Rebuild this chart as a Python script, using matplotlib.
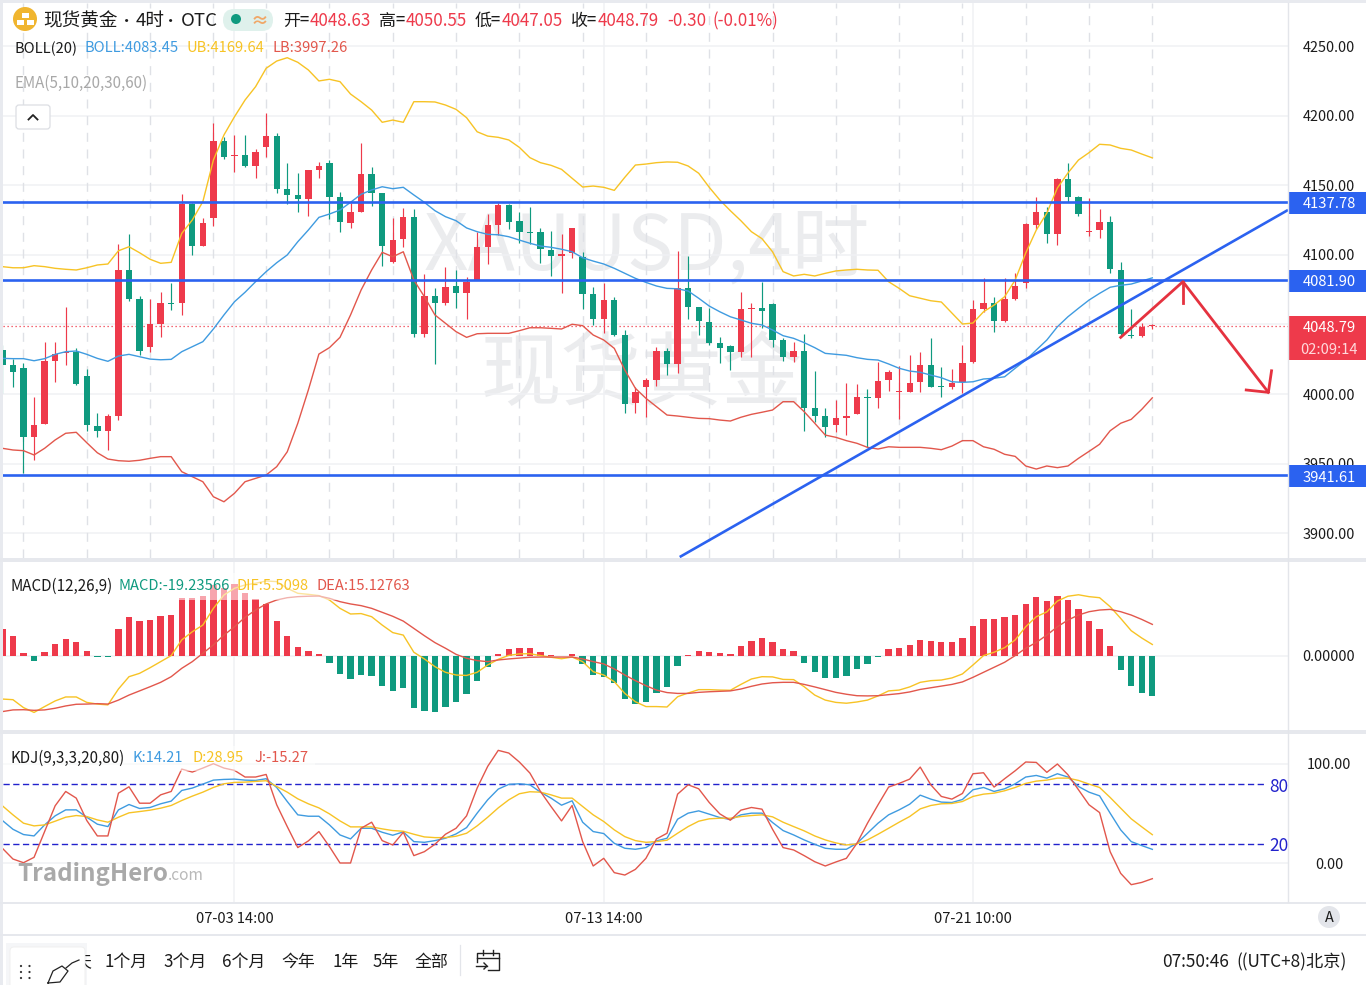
#!/usr/bin/env python3
# -*- coding: utf-8 -*-
"""XAUUSD 4h candlestick panel with BOLL, MACD and KDJ panes."""

import matplotlib

matplotlib.use("Agg")
import matplotlib.pyplot as plt
import numpy as np
from matplotlib.patches import Circle, FancyBboxPatch, Rectangle

plt.rcParams["font.family"] = ["Noto Sans CJK SC", "DejaVu Sans"]

candle_open = [
    4031.6, 4020.6, 4018.7, 3969.1, 3978.4, 4023.7, 4029.7, 4030.4, 4012.9, 3977.2,
    3973.6, 3984.4, 4089.1, 4068.0, 4033.5, 4050.1, 4065.6, 4065.2, 4136.5, 4106.3,
    4126.2, 4181.8, 4170.8, 4171.5, 4164.0, 4177.4, 4185.3, 4147.3, 4142.7, 4140.3,
    4160.9, 4165.7, 4141.5, 4123.1, 4130.7, 4158.0, 4144.2, 4094.8, 4111.1, 4127.4,
    4043.1, 4070.4, 4065.2, 4077.6, 4072.3, 4081.9, 4105.8, 4121.4, 4135.8, 4124.1,
    4116.6, 4116.2, 4103.4, 4099.4, 4101.1, 4098.2, 4071.8, 4053.7, 4067.5, 4042.4,
    3993.3, 4005.2, 4010.1, 4030.9, 4021.6, 4075.9, 4062.3, 4051.5, 4036.6, 4034.3,
    4030.0, 4061.1, 4061.6, 4064.4, 4038.8, 4026.8, 4031.1, 3989.7, 3984.2, 3977.7,
    3983.0, 3985.4, 3997.8, 3997.1, 4010.1, 4001.2, 4001.8, 4008.4, 4020.8, 4005.5,
    4004.8, 4008.4, 4022.8, 4061.1, 4065.4, 4052.7, 4068.0, 4080.0, 4121.2, 4130.5,
    4114.7, 4154.2, 4141.7, 4116.6, 4117.6, 4123.3, 4089.3, 4042.6, 4041.7, 4048.63,
]
candle_high = [
    4035.2, 4025.1, 4022.3, 3997.8, 4037.4, 4037.4, 4062.7, 4033.3, 4018.0, 3986.6,
    3985.6, 4107.8, 4114.9, 4070.4, 4068.2, 4073.5, 4080.0, 4143.7, 4137.2, 4126.4,
    4194.5, 4184.8, 4186.1, 4186.1, 4176.0, 4202.1, 4187.7, 4166.0, 4159.0, 4160.9,
    4166.9, 4168.1, 4144.9, 4137.0, 4180.1, 4162.9, 4144.4, 4126.2, 4133.4, 4132.9,
    4086.2, 4075.9, 4091.0, 4089.1, 4083.8, 4116.6, 4129.1, 4137.0, 4136.3, 4130.5,
    4134.1, 4119.0, 4117.1, 4114.9, 4119.5, 4102.2, 4076.9, 4080.0, 4069.9, 4046.0,
    4005.2, 4011.3, 4033.5, 4032.8, 4102.7, 4099.4, 4062.5, 4061.6, 4041.2, 4035.2,
    4073.5, 4065.2, 4080.7, 4065.2, 4040.0, 4037.1, 4042.9, 4016.5, 3989.7, 3995.7,
    4008.1, 4007.0, 4003.4, 4023.2, 4017.2, 4020.1, 4028.0, 4030.4, 4040.0, 4019.2,
    4017.7, 4035.2, 4067.5, 4083.6, 4069.5, 4083.1, 4086.7, 4122.6, 4141.3, 4134.6,
    4155.4, 4165.7, 4142.5, 4140.6, 4132.7, 4127.9, 4094.8, 4061.1, 4050.8, 4050.55,
]
candle_low = [
    4000.7, 4005.2, 3943.5, 3952.6, 3978.4, 4008.6, 4020.8, 4006.5, 3973.6, 3969.3,
    3959.8, 3981.3, 4067.0, 4028.0, 4030.4, 4040.7, 4060.3, 4056.8, 4099.9, 4106.3,
    4120.7, 4168.8, 4159.7, 4163.3, 4155.2, 4170.3, 4144.4, 4136.5, 4131.0, 4127.9,
    4155.2, 4125.5, 4116.2, 4119.5, 4130.7, 4135.1, 4092.0, 4093.9, 4105.4, 4041.2,
    4040.7, 4021.6, 4063.9, 4062.0, 4053.9, 4081.9, 4093.4, 4114.2, 4118.5, 4108.7,
    4107.8, 4093.9, 4085.0, 4072.3, 4097.5, 4061.1, 4049.6, 4043.6, 4041.9, 3986.6,
    3986.6, 3983.3, 4005.7, 4013.6, 4014.9, 4053.9, 4042.4, 4035.2, 4022.1, 4017.2,
    4026.4, 4026.8, 4047.6, 4033.5, 4023.9, 4022.8, 3973.6, 3980.1, 3969.3, 3972.9,
    3970.5, 3985.4, 3961.7, 3989.7, 4002.2, 3982.0, 4001.7, 4001.7, 4005.2, 3998.1,
    4003.4, 4000.5, 4022.1, 4059.1, 4044.3, 4051.5, 4067.5, 4076.4, 4118.3, 4108.7,
    4107.0, 4138.2, 4127.9, 4113.7, 4111.9, 4086.7, 4040.7, 4040.0, 4040.7, 4047.05,
]
candle_close = [
    4020.8, 4016.0, 3969.1, 3977.7, 4023.7, 4028.7, 4030.4, 4007.0, 3977.7, 3973.6,
    3984.4, 4089.1, 4068.2, 4031.1, 4050.1, 4065.6, 4064.9, 4136.5, 4106.3, 4123.1,
    4181.8, 4170.5, 4171.5, 4164.0, 4173.9, 4185.3, 4147.3, 4143.0, 4140.3, 4160.9,
    4163.8, 4141.7, 4123.6, 4130.7, 4158.0, 4144.2, 4106.3, 4110.6, 4127.4, 4043.1,
    4070.4, 4065.6, 4076.7, 4072.3, 4080.7, 4105.8, 4121.4, 4135.8, 4123.6, 4116.6,
    4115.9, 4104.0, 4099.4, 4100.4, 4119.0, 4071.8, 4053.7, 4067.5, 4042.4, 3992.8,
    4001.4, 4010.1, 4030.9, 4021.6, 4075.9, 4062.7, 4052.2, 4036.9, 4033.3, 4030.0,
    4060.8, 4061.8, 4059.6, 4038.8, 4026.8, 4031.1, 3989.9, 3984.4, 3976.1, 3982.5,
    3984.4, 3997.6, 3996.9, 4009.6, 4016.0, 4002.2, 4008.1, 4020.8, 4005.2, 4004.8,
    4008.1, 4022.5, 4061.1, 4065.4, 4052.7, 4068.0, 4077.6, 4121.9, 4130.5, 4114.7,
    4154.5, 4141.7, 4129.5, 4117.3, 4123.3, 4089.6, 4042.9, 4041.7, 4048.3, 4048.79,
]

boll_upper = [
    4091.5, 4090.7, 4090.7, 4092.2, 4091.5, 4090.3, 4089.6, 4089.1, 4090.7, 4092.7,
    4093.4, 4102.9, 4105.8, 4101.5, 4096.8, 4093.9, 4094.6, 4115.4, 4125.0, 4138.2,
    4168.1, 4186.1, 4199.2, 4211.2, 4220.8, 4234.0, 4239.2, 4241.6, 4238.3, 4232.8,
    4224.9, 4226.1, 4224.4, 4215.5, 4210.0, 4204.0, 4195.2, 4196.8, 4195.2, 4210.0,
    4210.0, 4209.8, 4207.6, 4204.5, 4198.5, 4188.4, 4185.3, 4184.4, 4182.5, 4177.2,
    4169.8, 4166.2, 4164.3, 4161.4, 4155.0, 4148.7, 4149.4, 4148.5, 4146.3, 4155.7,
    4164.5, 4165.2, 4166.2, 4166.7, 4166.5, 4163.8, 4158.6, 4148.5, 4139.4, 4131.7,
    4124.5, 4116.6, 4111.6, 4102.2, 4087.9, 4084.8, 4086.0, 4084.8, 4086.7, 4088.4,
    4089.1, 4089.6, 4089.1, 4088.9, 4080.7, 4075.9, 4070.6, 4068.8, 4067.0, 4066.1,
    4058.2, 4050.3, 4051.0, 4059.1, 4063.9, 4069.9, 4081.9, 4101.3, 4117.8, 4130.0,
    4148.0, 4158.8, 4168.1, 4173.4, 4179.4, 4178.9, 4176.5, 4175.3, 4172.4, 4169.64,
]
boll_mid = [
    4025.6, 4025.4, 4025.4, 4023.9, 4025.4, 4028.5, 4030.4, 4030.9, 4028.5, 4025.6,
    4023.5, 4027.3, 4028.5, 4026.8, 4025.1, 4024.6, 4024.9, 4030.4, 4034.0, 4037.6,
    4046.7, 4056.8, 4066.3, 4073.1, 4080.7, 4087.9, 4094.3, 4099.9, 4109.4, 4117.8,
    4126.9, 4129.3, 4132.2, 4137.7, 4143.5, 4146.6, 4148.9, 4147.5, 4148.5, 4143.0,
    4137.7, 4131.7, 4127.4, 4124.5, 4119.3, 4116.6, 4114.7, 4114.4, 4113.0, 4110.6,
    4108.3, 4106.3, 4105.4, 4104.0, 4102.2, 4097.9, 4095.5, 4093.4, 4090.3, 4086.7,
    4083.1, 4080.2, 4077.6, 4075.9, 4075.6, 4074.0, 4068.8, 4063.2, 4059.1, 4055.5,
    4053.2, 4050.8, 4049.6, 4046.0, 4041.9, 4040.0, 4036.9, 4033.3, 4029.2, 4028.5,
    4027.8, 4026.1, 4024.9, 4024.4, 4021.6, 4018.5, 4016.5, 4015.6, 4013.6, 4011.7,
    4008.8, 4008.4, 4008.8, 4010.8, 4011.3, 4012.4, 4018.5, 4024.4, 4031.6, 4038.8,
    4048.3, 4055.5, 4061.6, 4067.5, 4072.3, 4076.7, 4078.1, 4079.0, 4081.2, 4083.45,
]
boll_lower = [
    3961.0, 3959.8, 3959.3, 3956.2, 3961.0, 3967.0, 3971.8, 3972.5, 3965.0, 3957.8,
    3953.3, 3952.1, 3951.7, 3952.4, 3953.8, 3955.0, 3955.0, 3944.2, 3940.6, 3937.0,
    3926.2, 3922.6, 3928.7, 3937.0, 3939.4, 3941.8, 3947.8, 3958.5, 3979.0, 4002.9,
    4028.7, 4033.3, 4040.7, 4056.8, 4074.7, 4089.1, 4101.8, 4098.6, 4102.2, 4081.9,
    4069.9, 4056.8, 4050.8, 4044.8, 4040.7, 4043.3, 4043.6, 4043.6, 4043.6, 4045.5,
    4047.6, 4047.6, 4047.2, 4046.7, 4050.1, 4049.1, 4042.4, 4038.8, 4032.8, 4017.2,
    4004.1, 3996.9, 3990.9, 3984.9, 3984.2, 3983.3, 3982.5, 3982.3, 3981.3, 3980.6,
    3983.3, 3985.4, 3986.9, 3988.5, 3994.5, 3994.5, 3987.3, 3979.0, 3970.5, 3968.9,
    3966.5, 3964.6, 3961.7, 3960.5, 3962.1, 3961.7, 3961.7, 3961.7, 3961.0, 3960.0,
    3962.6, 3966.5, 3966.5, 3962.1, 3960.3, 3956.7, 3955.2, 3948.3, 3946.1, 3948.3,
    3947.1, 3948.3, 3953.8, 3958.8, 3963.9, 3973.6, 3979.0, 3981.8, 3989.0, 3997.26,
]

macd_hist = [
    12.8, 9.6, 1.4, -2.2, 1.9, 5.6, 8.1, 6.9, 2.4, -0.3,
    -0.3, 12.9, 18.5, 16.7, 17.4, 19.3, 19.6, 27.9, 27.9, 28.7,
    34.0, 32.7, 34.3, 30.3, 27.1, 24.7, 16.7, 9.7, 4.1, 2.4,
    1.0, -3.2, -8.5, -10.8, -8.9, -9.4, -14.4, -16.6, -15.5, -24.9,
    -26.3, -26.6, -24.2, -22.0, -18.3, -12.0, -5.4, 0.8, 3.2, 3.7,
    3.8, 1.9, 0.5, 0.2, 1.0, -3.7, -9.1, -10.0, -13.1, -20.7,
    -23.1, -22.2, -17.5, -14.7, -4.8, 0.3, 2.4, 1.9, 1.4, 1.0,
    4.8, 7.3, 8.6, 6.5, 3.5, 2.4, -3.5, -7.5, -10.4, -10.7,
    -9.6, -6.4, -4.0, -0.6, 3.3, 4.0, 5.3, 7.7, 7.2, 6.5,
    6.7, 8.5, 14.2, 17.9, 17.7, 18.8, 19.8, 24.9, 28.1, 26.5,
    28.7, 27.0, 22.6, 16.9, 12.8, 4.8, -6.9, -14.2, -17.7, -19.23566,
]
macd_dif = [
    -20.6, -20.9, -24.7, -27.0, -24.2, -21.5, -19.6, -19.6, -22.2, -23.0,
    -23.4, -15.8, -9.9, -8.3, -5.6, -2.7, 0.2, 7.7, 11.6, 14.8,
    22.8, 29.2, 32.4, 34.0, 34.8, 35.9, 35.6, 32.4, 30.0, 29.5,
    28.9, 26.8, 22.8, 20.1, 20.3, 18.8, 14.8, 11.2, 10.0, 1.8,
    -1.4, -5.1, -7.8, -9.1, -9.3, -7.8, -4.3, -1.6, 0.3, 1.0,
    1.1, 0.2, -0.6, -1.3, -0.5, -2.7, -7.5, -9.1, -12.3, -17.9,
    -21.9, -24.2, -24.2, -24.4, -19.5, -17.7, -16.1, -16.1, -16.3, -16.4,
    -13.6, -11.0, -9.9, -10.0, -11.2, -11.3, -14.7, -18.7, -21.1, -22.2,
    -22.6, -22.0, -21.1, -19.1, -16.7, -16.3, -14.8, -12.6, -11.8, -11.5,
    -10.5, -8.6, -4.3, 0.2, 1.8, 4.0, 7.7, 14.0, 18.8, 21.1,
    26.3, 28.6, 29.3, 28.4, 27.9, 23.6, 18.0, 12.1, 8.6, 5.5098,
]
macd_dea = [
    -26.6, -25.8, -25.7, -26.0, -25.8, -25.0, -23.9, -23.1, -23.0, -22.8,
    -23.0, -21.1, -18.7, -16.7, -14.7, -12.6, -9.9, -5.9, -2.7, 1.3,
    5.3, 10.0, 14.0, 18.5, 22.0, 24.9, 26.8, 27.9, 28.4, 28.6,
    28.7, 27.6, 26.0, 24.9, 24.1, 22.8, 20.9, 19.0, 16.7, 13.2,
    9.7, 6.4, 3.7, 0.8, -1.1, -2.2, -2.7, -1.9, -1.4, -1.0,
    -0.6, -0.5, -0.5, -0.5, -0.5, -1.4, -2.7, -3.8, -6.2, -9.1,
    -11.8, -14.2, -16.3, -17.5, -17.9, -17.9, -17.4, -17.1, -16.9, -16.7,
    -15.8, -14.5, -13.4, -12.8, -12.6, -12.6, -13.6, -14.8, -16.1, -17.4,
    -18.3, -19.0, -19.1, -19.0, -18.5, -18.0, -17.2, -16.0, -15.2, -14.4,
    -13.6, -12.4, -10.2, -7.8, -5.4, -3.0, 0.2, 3.7, 6.5, 10.0,
    14.0, 17.2, 19.6, 21.2, 22.0, 22.3, 21.2, 19.6, 17.5, 15.12763,
]

kdj_k = [
    43.2, 34.4, 29.1, 27.7, 38.8, 47.9, 53.9, 53.9, 46.5, 39.5,
    37.1, 53.9, 59.3, 55.3, 56.3, 60.0, 62.7, 73.4, 75.8, 79.8,
    83.8, 84.5, 84.8, 83.8, 83.5, 85.2, 76.4, 62.3, 48.9, 47.5,
    47.5, 38.8, 28.7, 24.7, 35.4, 35.4, 31.4, 28.4, 31.8, 22.0,
    21.3, 23.0, 25.4, 29.7, 36.1, 50.6, 64.0, 74.8, 79.5, 80.1,
    79.1, 71.7, 65.7, 58.6, 63.0, 41.5, 32.1, 30.1, 20.3, 15.3,
    14.3, 16.0, 22.7, 25.4, 44.5, 50.6, 52.9, 49.6, 46.2, 44.2,
    48.9, 50.6, 50.6, 41.2, 33.1, 28.7, 23.7, 19.3, 15.3, 14.3,
    14.3, 20.3, 30.4, 40.5, 48.9, 53.9, 59.6, 68.7, 64.7, 61.7,
    61.3, 64.3, 74.1, 76.4, 72.4, 75.1, 80.1, 86.9, 88.5, 85.8,
    90.2, 86.9, 77.4, 71.7, 68.0, 50.6, 33.8, 22.0, 18.0, 14.21,
]
kdj_d = [
    58.0, 48.9, 40.5, 37.8, 38.8, 42.5, 46.5, 48.2, 47.2, 43.8,
    41.5, 46.5, 50.9, 52.2, 53.6, 55.6, 58.3, 63.3, 67.7, 71.7,
    76.4, 80.1, 81.5, 81.8, 82.5, 83.2, 77.4, 71.7, 65.0, 60.0,
    55.9, 49.9, 42.8, 36.8, 36.8, 36.8, 34.8, 33.1, 32.4, 29.4,
    26.7, 26.0, 26.0, 27.4, 30.4, 37.8, 46.5, 55.9, 64.0, 70.1,
    72.1, 71.7, 69.0, 65.7, 65.7, 57.3, 48.9, 42.2, 33.8, 27.0,
    23.0, 21.3, 22.0, 23.4, 30.4, 37.1, 42.5, 44.9, 45.5, 45.5,
    47.2, 48.2, 48.9, 46.9, 41.5, 37.1, 32.8, 27.7, 23.7, 20.7,
    18.6, 19.7, 23.7, 29.4, 35.4, 41.5, 47.2, 54.9, 58.3, 60.0,
    60.3, 62.3, 67.4, 69.7, 70.7, 73.1, 76.4, 80.5, 82.8, 83.8,
    85.8, 85.8, 83.5, 79.8, 76.4, 66.4, 55.6, 44.9, 36.8, 28.95,
]
kdj_j = [
    15.3, 4.5, 0.8, 6.2, 32.1, 58.0, 72.4, 65.7, 43.2, 27.7,
    27.7, 70.7, 77.1, 60.6, 60.6, 69.0, 72.4, 94.9, 91.9, 95.9,
    100.3, 95.9, 93.6, 86.9, 86.9, 89.5, 59.0, 37.1, 16.0, 22.7,
    32.1, 17.0, 0.5, 0.5, 35.4, 41.5, 23.0, 18.6, 31.4, 7.9,
    11.9, 19.3, 29.4, 35.4, 47.9, 75.8, 97.6, 113.7, 111.0, 102.0,
    90.9, 72.4, 57.3, 42.8, 58.3, 22.0, -2.5, 5.2, -9.2, -11.6,
    -5.9, 5.2, 24.7, 30.4, 69.7, 79.1, 75.1, 61.3, 49.9, 43.5,
    53.6, 56.3, 54.6, 34.4, 16.0, 13.6, 7.9, 1.8, -2.5, 1.5,
    5.2, 20.3, 40.5, 59.0, 76.8, 80.5, 84.8, 96.9, 79.1, 67.4,
    64.7, 70.4, 90.2, 91.2, 76.8, 85.2, 93.2, 102.0, 101.6, 91.6,
    100.0, 89.2, 74.1, 59.0, 51.2, 11.9, -9.9, -21.3, -19.0, -15.27,
]

price_ticks = [3900, 3950, 4000, 4050, 4100, 4150, 4200, 4250]
price_tick_labels = ["3900.00", "3950.00", "4000.00", "4050.00", "4100.00", "4150.00", "4200.00", "4250.00"]
drawn_levels = [4137.78, 4081.90, 3941.61]
last_price = 4048.79

date_ticks = [22, 57, 92]
date_labels = ["07-03 14:00", "07-13 14:00", "07-21 10:00"]
session_bars = [2, 8, 14, 20, 25, 31, 37, 43, 49, 55, 61, 67, 73, 79, 85, 91, 97, 103, 109]

trend_bars = [64.2, 121.86]
trend_prices = [3882.9, 4132.2]
path_bars = [106.0, 111.9, 120.0]
path_prices = [4040.7, 4080.7, 4001.2]
peak_barb_bars = [111.9, 111.9]
peak_barb_prices = [4080.7, 4065.4]
tip_barb_bars = [120.3, 120.0, 117.9]
tip_barb_prices = [4016.7, 4001.2, 4002.9]

RED = "#ee3a4b"
GREEN = "#0f9a7f"
BLUE = "#2b62f0"
BOLL_BLUE = "#3f9be0"
GOLD = "#f7c325"
LINE_RED = "#e2574c"
GRID = "#f0f1f4"
RULE = "#e3e5ea"

W, H = 1366, 985
LEFT, RIGHT = 3, 1288
XLIM = (0.057, 121.86)
MIN_BODY = 0.75  # keeps doji bodies about a pixel tall


def pane(fig, top, bottom):
    ax = fig.add_axes([LEFT / W, 1 - bottom / H, (RIGHT - LEFT) / W, (bottom - top) / H], zorder=1)
    ax.patch.set_alpha(0)
    for s in ax.spines.values():
        s.set_visible(False)
    ax.set_xlim(*XLIM)
    ax.yaxis.tick_right()
    ax.set_axisbelow(True)
    ax.grid(axis="y", color=GRID, lw=1.1)
    ax.grid(axis="x", color=GRID, lw=1.1)
    ax.set_xticks(date_ticks)
    ax.tick_params(length=0, labelbottom=False)
    ax.tick_params(axis="y", labelsize=10.4, pad=29.5, labelcolor="#1b1b1b")
    return ax


def centre_ticks(ax):
    for t in ax.get_yticklabels():
        t.set_ha("center")
        t.set_va("center_baseline")


fig = plt.figure(figsize=(W / 100, H / 100), dpi=100, facecolor="white")

# layers for the watermark (under the panes) and the chart furniture (over them)
under = fig.add_axes([0, 0, 1, 1], zorder=0)
under.set_xlim(0, W)
under.set_ylim(H, 0)
under.axis("off")
ui = fig.add_axes([0, 0, 1, 1], zorder=2)
ui.set_xlim(0, W)
ui.set_ylim(H, 0)
ui.axis("off")
ui.patch.set_alpha(0)


def label(x, y, s, color="#1b1b1b", size=10.6, ha="left", **kw):
    ui.text(x, y, s, color=color, fontsize=size, ha=ha, va="center_baseline", **kw)


under.text(647, 248, "XAUUSD,4时", color="#ebecee", fontsize=56, ha="center", va="center")
under.text(642, 376, "现货黄金", color="#ebecee", fontsize=58, ha="center", va="center")

# price pane
ax_price = pane(fig, 3, 558)
ax_price.set_ylim(3882.2, 4280.9)
ax_price.set_yticks(price_ticks)
ax_price.set_yticklabels(price_tick_labels)
centre_ticks(ax_price)
for b in session_bars:
    ax_price.axvline(b, color="#dfe1e6", lw=1.0, ls=(0, (6.5, 5.5)), zorder=1)

bars = np.arange(len(candle_close))
opens = np.array(candle_open)
closes = np.array(candle_close)
candle_colors = [RED if c >= o else GREEN for o, c in zip(opens, closes)]
ax_price.vlines(bars, candle_low, candle_high, colors=candle_colors, lw=0.85, zorder=3)
ax_price.bar(bars, np.maximum(np.abs(closes - opens), MIN_BODY), bottom=np.minimum(opens, closes),
             width=0.6, color=candle_colors, linewidth=0, zorder=3)

ax_price.plot(bars, boll_upper, color=GOLD, lw=1.0, zorder=4)
ax_price.plot(bars, boll_mid, color=BOLL_BLUE, lw=1.0, zorder=4)
ax_price.plot(bars, boll_lower, color=LINE_RED, lw=1.0, zorder=4)

ax_price.axhline(last_price, color=RED, lw=0.9, ls=(0, (1, 2.2)), zorder=2)
for level in drawn_levels:
    ax_price.axhline(level, color=BLUE, lw=1.9, zorder=5)
ax_price.plot(trend_bars, trend_prices, color=BLUE, lw=1.9, zorder=5, solid_capstyle="butt")
ax_price.plot(path_bars, path_prices, color="#e5323f", lw=2.0, zorder=6)
ax_price.plot(peak_barb_bars, peak_barb_prices, color="#e5323f", lw=2.0, zorder=6)
ax_price.plot(tip_barb_bars, tip_barb_prices, color="#e5323f", lw=2.0, zorder=6)

# MACD pane
ax_macd = pane(fig, 562, 730)
ax_macd.set_ylim(-35.41, 44.98)
ax_macd.set_yticks([0])
ax_macd.set_yticklabels(["0.00000"])
centre_ticks(ax_macd)
hist_colors = [RED if v > 0 else GREEN for v in macd_hist]
ax_macd.bar(bars, macd_hist, width=0.6, color=hist_colors, linewidth=0, zorder=2)
ax_macd.plot(bars, macd_dif, color=GOLD, lw=1.0, zorder=3)
ax_macd.plot(bars, macd_dea, color=LINE_RED, lw=1.0, zorder=3)

# KDJ pane
ax_kdj = pane(fig, 734, 902)
ax_kdj.set_ylim(-38.7, 130.15)
ax_kdj.set_yticks([0, 100])
ax_kdj.set_yticklabels(["0.00", "100.00"])
centre_ticks(ax_kdj)
ax_kdj.set_xticklabels(date_labels)
ax_kdj.tick_params(axis="x", labelbottom=True, labelsize=10.5, pad=7.5, labelcolor="#1b1b1b")
ax_kdj.hlines([80, 20], XLIM[0], 119.6, color="#2222cc", lw=1.0, ls=(0, (4.5, 2.5)), zorder=2)
ax_kdj.plot(bars, kdj_k, color=BOLL_BLUE, lw=1.0, zorder=3)
ax_kdj.plot(bars, kdj_d, color=GOLD, lw=1.0, zorder=3)
ax_kdj.plot(bars, kdj_j, color=LINE_RED, lw=1.0, zorder=3)

# frame and pane separators
ui.add_patch(Rectangle((0, 0), W, 3, color="#e8eaef", lw=0))
ui.add_patch(Rectangle((0, 0), 3, H, color="#e8eaef", lw=0))
for y0, y1 in [(558, 562), (730, 734), (902, 904), (934, 936)]:
    ui.add_patch(Rectangle((0, y0), W, y1 - y0, color="#e6e8ed", lw=0))
ui.plot([RIGHT, RIGHT], [3, 902], color=RULE, lw=1.0)

# indicator legends sit on a translucent strip
ui.add_patch(Rectangle((3, 573), 412, 27, color="white", alpha=0.55, lw=0))
ui.add_patch(Rectangle((3, 746), 312, 25, color="white", alpha=0.55, lw=0))

# symbol header
ui.add_patch(Circle((25, 19), 12, color="#f0b52f", lw=0))
for bx, by in [(21.5, 13), (16.5, 20), (26.5, 20)]:
    ui.add_patch(Rectangle((bx, by), 7.5, 4.5, color="white", lw=0))
label(43, 19, "现货黄金", size=13.4)
label(127, 19, "•", size=11, ha="center")
label(136, 19, "4时", size=13.4)
label(171, 19, "•", size=11, ha="center")
label(181, 19, "OTC", size=13.4)
ui.add_patch(FancyBboxPatch((223, 9), 50, 22, boxstyle="round,pad=0,rounding_size=11",
                            fc="#dff1ec", ec="none"))
ui.add_patch(Circle((236, 19), 5, color=GREEN, lw=0))
label(260, 19, "≈", color="#f0a868", size=13, ha="center", fontweight="bold")
for x, s in [(283, "开="), (379, "高="), (475, "低="), (571, "收=")]:
    label(x, 19, s, size=12.2)
for x, s in [(310, "4048.63"), (406, "4050.55"), (502, "4047.05"), (598, "4048.79"),
             (667, "-0.30"), (712, "(-0.01%)")]:
    label(x, 19, s, color=RED, size=12.2)

label(15, 47, "BOLL(20)")
label(85, 47, "BOLL:4083.45", color=BOLL_BLUE)
label(186, 47, "UB:4169.64", color=GOLD)
label(272, 47, "LB:3997.26", color=LINE_RED)
label(15, 81, "EMA(5,10,20,30,60)", color="#a8a8a8", size=10.9)
ui.add_patch(FancyBboxPatch((16, 105), 34, 24, boxstyle="round,pad=0,rounding_size=3",
                            fc="white", ec="#dcdee3", lw=0.9))
ui.plot([28.5, 33, 37.5], [119.5, 115, 119.5], color="#222222", lw=1.3)

label(10, 584, "MACD(12,26,9)", size=10.9)
label(118, 584, "MACD:-19.23566", color=GREEN)
label(237, 584, "DIF:5.5098", color=GOLD)
label(317, 584, "DEA:15.12763", color=LINE_RED)

label(10, 756, "KDJ(9,3,3,20,80)", size=10.9)
label(133, 756, "K:14.21", color=BOLL_BLUE)
label(193, 756, "D:28.95", color=GOLD)
label(254, 756, "J:-15.27", color=LINE_RED)

# price flags on the axis
for y, s in [(202.5, "4137.78"), (280.5, "4081.90"), (476, "3941.61")]:
    ui.add_patch(Rectangle((RIGHT, y - 11), W - RIGHT, 22, color=BLUE, lw=0))
    label(1329, y, s, color="white", size=10.6, ha="center", fontweight="medium")
ui.add_patch(Rectangle((RIGHT, 316), W - RIGHT, 44, color=RED, lw=0))
label(1329, 327, "4048.79", color="white", size=10.6, ha="center", fontweight="medium")
label(1329, 349, "02:09:14", color="#ffd9dc", size=10.6, ha="center")

label(1279, 785, "80", color="#2222cc", size=12.5, ha="center")
label(1279, 844, "20", color="#2222cc", size=12.5, ha="center")

label(17, 872, "TradingHero", color="#a9a9a9", size=17.4, fontweight="bold")
label(168, 874, ".com", color="#b9b9b9", size=11.2)

ui.add_patch(Circle((1329, 917), 11, color="#e3e5ea", lw=0))
label(1329, 917, "A", size=10.4, ha="center")

# range bar along the bottom
label(74, 960, "天", size=12.2)
ui.add_patch(Rectangle((6, 943), 81, 45, color="#f5f6f8", lw=0, zorder=2))
ui.add_patch(FancyBboxPatch((10, 947), 75, 45, boxstyle="round,pad=0,rounding_size=4",
                            fc="white", ec="#eeeeee", lw=0.6, zorder=5))
for dx in [21, 29.5]:
    for dy in [966, 972, 978]:
        ui.add_patch(Circle((dx, dy), 1.1, color="#333333", lw=0, zorder=6))
ui.plot([48, 53, 62, 68, 60, 48], [983, 971, 966, 971, 982, 983], color="#222222", lw=0.9, zorder=6)
ui.plot([66, 72, 79], [968, 963, 960], color="#222222", lw=0.9, zorder=6)

for x, s in [(104, "1个月"), (163, "3个月"), (222, "6个月"), (281, "今年"),
             (332, "1年"), (373, "5年"), (415, "全部")]:
    label(x, 960, s, size=12.2)
ui.plot([460, 460], [945, 975], color=RULE, lw=0.9)
ui.plot([477, 477, 499, 499, 488], [962, 953, 953, 970, 970], color="#222222", lw=1.0)
ui.plot([477, 499], [958, 958], color="#222222", lw=1.0)
ui.plot([483, 483], [950, 955], color="#222222", lw=1.0)
ui.plot([493, 493], [950, 955], color="#222222", lw=1.0)
ui.plot([476, 487], [966, 966], color="#222222", lw=1.0)
ui.plot([484, 487, 484], [963, 966, 969], color="#222222", lw=1.0)
label(1162, 960, "07:50:46", size=12.4, fontweight="medium")
label(1236, 960, "((UTC+8)北京)", size=12.4)

ui.set_xlim(0, W)
ui.set_ylim(H, 0)
fig.savefig("out.png", dpi=100)
plt.close(fig)
